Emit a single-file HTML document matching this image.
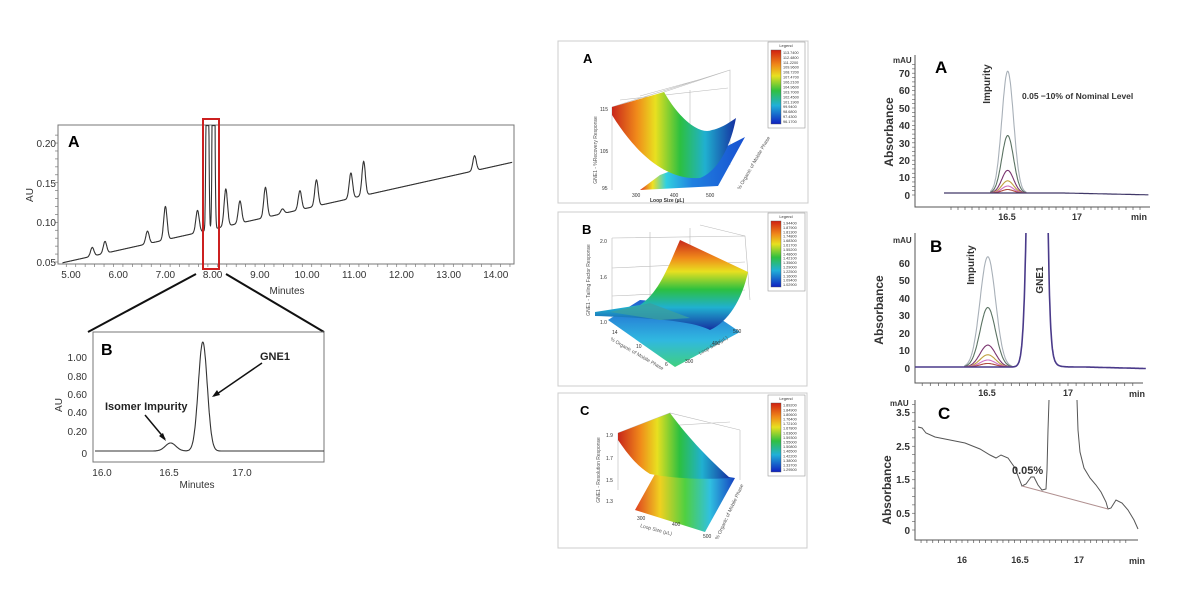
<!DOCTYPE html>
<html><head><meta charset="utf-8"><style>
html,body{margin:0;padding:0;background:#fff;}
svg{display:block;font-family:"Liberation Sans",sans-serif;}
</style></head><body>
<svg id="s" width="1193" height="591" viewBox="0 0 1193 591" xmlns="http://www.w3.org/2000/svg">
<defs>
<linearGradient id="jet" x1="0" y1="0" x2="1" y2="0">
<stop offset="0" stop-color="#c8261a"/><stop offset="0.2" stop-color="#f08a1a"/><stop offset="0.35" stop-color="#e8e020"/><stop offset="0.55" stop-color="#2cc040"/><stop offset="0.75" stop-color="#20b0d0"/><stop offset="1" stop-color="#1530a0"/></linearGradient>
<linearGradient id="jetv" x1="0" y1="0" x2="0" y2="1">
<stop offset="0" stop-color="#c8261a"/><stop offset="0.2" stop-color="#f08a1a"/><stop offset="0.35" stop-color="#e8e020"/><stop offset="0.55" stop-color="#2cc040"/><stop offset="0.75" stop-color="#20b0d0"/><stop offset="1" stop-color="#1530a0"/></linearGradient>
<linearGradient id="legv" x1="0" y1="0" x2="0" y2="1">
<stop offset="0" stop-color="#d02010"/><stop offset="0.2" stop-color="#f08a1a"/><stop offset="0.35" stop-color="#e8e020"/><stop offset="0.55" stop-color="#30c040"/><stop offset="0.75" stop-color="#20b0d8"/><stop offset="1" stop-color="#1020c0"/></linearGradient>
<linearGradient id="floorA" x1="0" y1="0" x2="1" y2="0">
<stop offset="0" stop-color="#e03020"/><stop offset="0.12" stop-color="#f0e020"/><stop offset="0.25" stop-color="#30d0e0"/><stop offset="0.5" stop-color="#2080e0"/><stop offset="1" stop-color="#1850d0"/></linearGradient>
<linearGradient id="floorB" x1="0" y1="0" x2="0" y2="1">
<stop offset="0" stop-color="#2060d0"/><stop offset="0.6" stop-color="#30b8e0"/><stop offset="1" stop-color="#40d080"/></linearGradient>
<linearGradient id="floorC" x1="0" y1="0" x2="1" y2="0">
<stop offset="0" stop-color="#e04020"/><stop offset="0.25" stop-color="#f0d020"/><stop offset="0.5" stop-color="#50d040"/><stop offset="0.75" stop-color="#30c0e0"/><stop offset="1" stop-color="#1540c0"/></linearGradient>
<clipPath id="cB"><rect x="915" y="233" width="240" height="160"/></clipPath>
</defs>

<!-- LEFT A -->
<rect x="58" y="125" width="456" height="139" fill="none" stroke="#777" stroke-width="1"/>
<g id="lticks"></g>
<path id="trA" fill="none" stroke="#333" stroke-width="1.1"/>
<rect x="203" y="119" width="16" height="150" fill="none" stroke="#cc2020" stroke-width="2"/>
<text x="68" y="147" font-size="16" font-weight="bold">A</text>
<g font-size="10" fill="#333" text-anchor="end">
<text x="56" y="147">0.20</text><text x="56" y="187">0.15</text><text x="56" y="226">0.10</text><text x="56" y="266">0.05</text></g>
<text x="33" y="195" font-size="10" fill="#333" transform="rotate(-90 33 195)" text-anchor="middle">AU</text>
<g font-size="10" fill="#333" text-anchor="middle" id="lxl"></g>
<text x="287" y="294" font-size="10" fill="#333" text-anchor="middle">Minutes</text>
<line x1="196" y1="274" x2="88" y2="332" stroke="#111" stroke-width="2"/>
<line x1="226" y1="274" x2="324" y2="332" stroke="#111" stroke-width="2"/>

<!-- LEFT B -->
<rect x="93" y="332" width="231" height="130" fill="none" stroke="#777" stroke-width="1"/>
<path id="trB" fill="none" stroke="#333" stroke-width="1.1"/>
<text x="101" y="355" font-size="16" font-weight="bold">B</text>
<g font-size="10" fill="#333" text-anchor="end">
<text x="87" y="361">1.00</text><text x="87" y="380">0.80</text><text x="87" y="398">0.60</text><text x="87" y="416">0.40</text><text x="87" y="435">0.20</text><text x="87" y="457">0</text></g>
<text x="62" y="405" font-size="10" fill="#333" transform="rotate(-90 62 405)" text-anchor="middle">AU</text>
<g font-size="10" fill="#333" text-anchor="middle"><text x="102" y="476">16.0</text><text x="169" y="476">16.5</text><text x="242" y="476">17.0</text></g>
<text x="197" y="488" font-size="10" fill="#333" text-anchor="middle">Minutes</text>
<text x="105" y="410" font-size="11" font-weight="bold" fill="#222">Isomer Impurity</text>
<text x="260" y="360" font-size="11" font-weight="bold" fill="#222">GNE1</text>
<line x1="145" y1="415" x2="165" y2="439" stroke="#111" stroke-width="1.5"/><path d="M166,441 L159,436 L163,433Z" fill="#111"/>
<line x1="262" y1="363" x2="214" y2="396" stroke="#111" stroke-width="1.5"/><path d="M212,397 L217,390 L220,395Z" fill="#111"/>

<!-- MIDDLE A -->
<rect x="558" y="41" width="250" height="162" fill="#fff" stroke="#ccc"/>
<text x="583" y="63" font-size="13" font-weight="bold">A</text>
<g stroke="#bbb" stroke-width="0.6" fill="none">
<path d="M612,107 L612,190 M664,92 L664,170 M612,107 L730,70 L730,165 M664,92 L730,70 M620,100 L728,88 M640,96 L705,78 M690,90 L690,155"/></g>
<polygon points="640,190 660,175 700,160 745,137 718,186" fill="url(#floorA)"/>
<path d="M612,107 L664,92 C680,120 700,135 712,130 C722,128 730,122 736,118 C730,150 716,172 700,178 C670,180 640,160 612,115 Z" fill="url(#jet)"/>
<g font-size="5" fill="#333"><text x="600" y="111">115</text><text x="600" y="153">105</text><text x="602" y="190">95</text>
<text x="632" y="197">300</text><text x="670" y="197">400</text><text x="706" y="197">500</text>
<text x="650" y="202" font-weight="bold">Loop Size (µL)</text></g>
<text x="740" y="190" font-size="5" fill="#555" transform="rotate(-60 740 190)">% Organic of Mobile Phase</text>
<text x="597" y="150" font-size="5" fill="#555" transform="rotate(-90 597 150)" text-anchor="middle">GNE1 - %Recovery Response</text>
<g id="legA"></g>

<!-- MIDDLE B -->
<rect x="558" y="212" width="249" height="174" fill="#fff" stroke="#ccc"/>
<text x="582" y="234" font-size="13" font-weight="bold">B</text>
<g stroke="#bbb" stroke-width="0.6" fill="none">
<path d="M612,238 L612,322 M612,238 L745,236 L750,300 M650,232 L650,310 M690,228 L690,320 M612,268 L745,262 M612,296 L745,290 M700,225 L745,236"/></g>
<polygon points="608,320 675,367 740,332 700,305 640,300" fill="url(#floorB)"/>
<path d="M595,312 L640,305 C660,292 670,262 680,240 L748,272 C742,300 728,322 710,330 C695,322 660,318 595,316 Z" fill="url(#jetv)"/>
<path d="M610,312 L650,303 L690,318 L660,320 Z" fill="#3aa0a0" opacity="0.8"/>
<g font-size="5" fill="#333"><text x="600" y="243">2.0</text><text x="600" y="279">1.6</text><text x="600" y="324">1.0</text>
<text x="612" y="334">14</text><text x="636" y="348">10</text><text x="665" y="366">6</text>
<text x="685" y="363">300</text><text x="712" y="345">400</text><text x="733" y="333">500</text></g>
<text x="610" y="340" font-size="5" fill="#555" transform="rotate(30 610 340)">% Organic of Mobile Phase</text>
<text x="700" y="355" font-size="5" fill="#555" transform="rotate(-30 700 355)">Loop Size (µL)</text>
<text x="590" y="280" font-size="5" fill="#555" transform="rotate(-90 590 280)" text-anchor="middle">GNE1 - Tailing Factor Response</text>
<g id="legB"></g>

<!-- MIDDLE C -->
<rect x="558" y="393" width="249" height="155" fill="#fff" stroke="#ccc"/>
<text x="580" y="415" font-size="13" font-weight="bold">C</text>
<g stroke="#bbb" stroke-width="0.6" fill="none">
<path d="M618,433 L618,490 M670,413 L670,470 M740,430 L740,480 M618,433 L670,413 L740,430 M630,428 L730,422"/></g>
<polygon points="635,510 705,532 735,478 660,465" fill="url(#floorC)"/>
<path d="M618,433 L670,413 C690,440 710,460 730,478 C700,480 670,478 650,474 C635,465 625,450 618,440 Z" fill="url(#jet)"/>
<g font-size="5" fill="#333"><text x="606" y="437">1.9</text><text x="606" y="460">1.7</text><text x="606" y="482">1.5</text><text x="606" y="503">1.3</text>
<text x="637" y="520">300</text><text x="672" y="526">400</text><text x="703" y="538">500</text></g>
<text x="640" y="527" font-size="5" fill="#555" transform="rotate(15 640 527)">Loop Size (µL)</text>
<text x="718" y="540" font-size="5" fill="#555" transform="rotate(-65 718 540)">% Organic of Mobile Phase</text>
<text x="600" y="470" font-size="5" fill="#555" transform="rotate(-90 600 470)" text-anchor="middle">GNE1 - Resolution Response</text>
<g id="legC"></g>

<!-- RIGHT A -->
<g stroke="#555" stroke-width="1" fill="none"><path d="M915,55 L915,207 L1150,207"/></g>
<g id="rtA"></g>
<text x="935" y="73" font-size="17" font-weight="bold">A</text>
<text x="893" y="63" font-size="8" font-weight="bold" fill="#333">mAU</text>
<g font-size="10" font-weight="bold" fill="#333" text-anchor="end">
<text x="910" y="77">70</text><text x="910" y="94">60</text><text x="910" y="112">50</text><text x="910" y="129">40</text><text x="910" y="147">30</text><text x="910" y="164">20</text><text x="910" y="181">10</text><text x="910" y="199">0</text></g>
<text x="893" y="132" font-size="12" font-weight="bold" fill="#333" transform="rotate(-90 893 132)" text-anchor="middle">Absorbance</text>
<text x="990" y="84" font-size="10" font-weight="bold" fill="#333" transform="rotate(-90 990 84)" text-anchor="middle">Impurity</text>
<text x="1022" y="99" font-size="8.5" font-weight="bold" fill="#333">0.05 −10% of Nominal Level</text>
<g font-size="9" font-weight="bold" fill="#333" text-anchor="middle"><text x="1007" y="220">16.5</text><text x="1077" y="220">17</text><text x="1139" y="220">min</text></g>

<!-- RIGHT B -->
<g stroke="#555" stroke-width="1" fill="none"><path d="M915,233 L915,383 L1143,383"/></g>
<g id="rtB" clip-path="url(#cB)"></g>
<text x="930" y="252" font-size="17" font-weight="bold">B</text>
<text x="893" y="243" font-size="8" font-weight="bold" fill="#333">mAU</text>
<g font-size="10" font-weight="bold" fill="#333" text-anchor="end">
<text x="910" y="267">60</text><text x="910" y="284">50</text><text x="910" y="302">40</text><text x="910" y="319">30</text><text x="910" y="337">20</text><text x="910" y="354">10</text><text x="910" y="372">0</text></g>
<text x="883" y="310" font-size="12" font-weight="bold" fill="#333" transform="rotate(-90 883 310)" text-anchor="middle">Absorbance</text>
<text x="974" y="265" font-size="10" font-weight="bold" fill="#333" transform="rotate(-90 974 265)" text-anchor="middle">Impurity</text>
<text x="1043" y="280" font-size="10" font-weight="bold" fill="#333" transform="rotate(-90 1043 280)" text-anchor="middle">GNE1</text>
<g font-size="9" font-weight="bold" fill="#333" text-anchor="middle"><text x="987" y="396">16.5</text><text x="1068" y="396">17</text><text x="1137" y="397">min</text></g>

<!-- RIGHT C -->
<g stroke="#555" stroke-width="1" fill="none"><path d="M915,400 L915,540 L1138,540"/></g>
<g id="rtC"></g>
<text x="938" y="419" font-size="17" font-weight="bold">C</text>
<text x="890" y="406" font-size="8" font-weight="bold" fill="#333">mAU</text>
<g font-size="10" font-weight="bold" fill="#333" text-anchor="end">
<text x="910" y="416">3.5</text><text x="910" y="450">2.5</text><text x="910" y="483">1.5</text><text x="910" y="517">0.5</text><text x="910" y="534">0</text></g>
<text x="891" y="490" font-size="12" font-weight="bold" fill="#333" transform="rotate(-90 891 490)" text-anchor="middle">Absorbance</text>
<text x="1012" y="474" font-size="11" font-weight="bold" fill="#333">0.05%</text>
<g font-size="9" font-weight="bold" fill="#333" text-anchor="middle"><text x="962" y="563">16</text><text x="1020" y="563">16.5</text><text x="1079" y="563">17</text><text x="1137" y="564">min</text></g>
</svg>
<script>
var NS="http://www.w3.org/2000/svg",S=document.getElementById('s');
function el(p,t,a,txt){var e=document.createElementNS(NS,t);for(var k in a)e.setAttribute(k,a[k]);if(txt!==undefined)e.textContent=txt;p.appendChild(e);return e;}
function g(x,m,s){return Math.exp(-0.5*Math.pow((x-m)/s,2));}
// Left A
var d="",lt=document.getElementById('lticks'),lx=document.getElementById('lxl');
function XA(t){return 71+(t-5)*47.2;}function YA(v){return 262-(v-0.05)*793;}
var pk=[[5.45,.011,.036],[5.72,.015,.036],[6.62,.016,.036],[7.0,.042,.036],[7.68,.028,.036],[7.89,.5,.02],[8.02,.5,.02],[8.28,.047,.036],[8.58,.028,.036],[9.12,.038,.036],[9.48,.006,.036],[9.85,.024,.036],[10.2,.033,.036],[10.93,.032,.036],[11.2,.043,.036],[13.55,.019,.036]];
for(var t=4.82;t<=14.35;t+=0.004){var v=0.049+(t-4.82)*0.0133;for(var i=0;i<pk.length;i++)v+=pk[i][1]*g(t,pk[i][0],pk[i][2]);v=Math.min(v,0.222);d+=(d?"L":"M")+XA(t).toFixed(1)+","+YA(v).toFixed(1);}
document.getElementById('trA').setAttribute('d',d);
for(var k=5;k<=14;k++){el(lx,'text',{x:XA(k),y:278},k.toFixed(2));}
for(var t=4.9;t<=14.35;t+=0.2){var x=XA(t);el(lt,'line',{x1:x,y1:264,x2:x,y2:(Math.abs(t-Math.round(t))<0.01?269:267),stroke:'#777','stroke-width':0.7});}
for(var v=0.05;v<=0.22;v+=0.01){el(lt,'line',{x1:55,y1:YA(v),x2:58,y2:YA(v),stroke:'#777','stroke-width':0.7});}
// Left B
d="";function XB(t){return 102+(t-16)*140;}
for(var t=15.95;t<=17.6;t+=0.003){var y=451-8*g(t,16.49,0.038)-109*g(t,16.72,0.032);var x=XB(t);if(x<93||x>324)continue;d+=(d?"L":"M")+x.toFixed(1)+","+y.toFixed(1);}
document.getElementById('trB').setAttribute('d',d);
// Legends
function leg(id,x,y,h,vals){var G=document.getElementById(id);el(G,'rect',{x:x,y:y,width:37,height:h,fill:'#fff',stroke:'#999','stroke-width':0.6});el(G,'text',{x:x+18,y:y+5,'font-size':4,'text-anchor':'middle',fill:'#333'},'Legend');
var top=y+8,bh=(h-12)/vals.length;el(G,'rect',{x:x+3,y:top,width:10,height:h-12,fill:'url(#legv)',stroke:'#555','stroke-width':0.4});
for(var i=0;i<vals.length;i++){el(G,'text',{x:x+15,y:top+bh*i+bh*0.8,'font-size':3.8,fill:'#333'},vals[i]);}}
leg('legA',768,42,86,["113.7400","112.4800","111.2200","109.9600","108.7200","107.4700","106.2100","104.9600","103.7000","102.4500","101.1900","99.9400","98.6800","97.4300","96.1700"]);
leg('legB',768,213,78,["1.94400","1.87900","1.81300","1.74800","1.68300","1.61700","1.55200","1.48600","1.42100","1.35600","1.29000","1.22500","1.16000","1.09400","1.02900"]);
leg('legC',768,395,81,["1.89200","1.84900","1.80600","1.76400","1.72100","1.67800","1.63600","1.59300","1.55000","1.50800","1.46500","1.42200","1.38000","1.33700","1.29500"]);
// Right A
var cols=[["#a8b0b8",70],["#5a7262",33],["#7a3470",13],["#c0a040",7],["#d070c0",4],["#b04a40",2]];
function XRA(t){return 1007+(t-16.5)*140;}
var rA=document.getElementById('rtA');
for(var c=0;c<cols.length;c++){d="";for(var t=16.38;t<=16.64;t+=0.003){var y=193-cols[c][1]*1.74*g(t,16.505,0.042);d+=(d?"L":"M")+XRA(t).toFixed(1)+","+y.toFixed(1);}el(rA,'path',{d:d,fill:'none',stroke:cols[c][0],'stroke-width':1.1});}
d="";for(var t=16.05;t<=17.52;t+=0.01){var y=193+(t>16.9?(t-16.9)*3:0);d+=(d?"L":"M")+XRA(t).toFixed(1)+","+y.toFixed(1);}el(rA,'path',{d:d,fill:'none',stroke:'#403868','stroke-width':1.2});
for(var t=16.1;t<=17.5;t+=0.05){el(rA,'line',{x1:XRA(t),y1:207,x2:XRA(t),y2:210,stroke:'#555','stroke-width':0.7});}
for(var v=0;v<=75;v+=2.5){el(rA,'line',{x1:912,y1:195-v*1.74,x2:915,y2:195-v*1.74,stroke:'#555','stroke-width':0.6});}
// Right B
function XRB(t){return 987+(t-16.5)*162;}
var rB=document.getElementById('rtB');var hB=[["#a8b0b8",63],["#5a7262",34],["#7a3470",12.5],["#c0a040",7],["#d070c0",4],["#b04a40",2]];
for(var c=0;c<hB.length;c++){d="";for(var t=16.36;t<=16.66;t+=0.003){var y=367-hB[c][1]*1.75*g(t,16.505,0.048);d+=(d?"L":"M")+XRB(t).toFixed(1)+","+y.toFixed(1);}el(rB,'path',{d:d,fill:'none',stroke:hB[c][0],'stroke-width':1.1});}
d="";for(var t=16.03;t<=17.48;t+=0.002){var m=16.84,y;var dx=t-m;var h=(dx<0)?3000*g(t,m,0.04):3000*Math.exp(-Math.abs(dx)/0.012)+(30*Math.exp(-dx/0.03));y=367-h+(t>17.1?(t-17.1)*4:0);y=Math.max(y,200);d+=(d?"L":"M")+XRB(t).toFixed(1)+","+y.toFixed(1);}
el(rB,'path',{d:d,fill:'none',stroke:'#4a3a8a','stroke-width':1.6});
for(var t=16.1;t<=17.45;t+=0.05){el(rB,'line',{x1:XRB(t),y1:383,x2:XRB(t),y2:386,stroke:'#555','stroke-width':0.7});}
for(var v=-5;v<=70;v+=2.5){el(rB,'line',{x1:912,y1:368-v*1.75,x2:915,y2:368-v*1.75,stroke:'#555','stroke-width':0.6});}
// Right C
var rC=document.getElementById('rtC');
var pts=[[918,427],[922,428],[926,433],[935,437],[950,440],[965,443],[980,449],[990,455],[996,458],[1001,455],[1008,458],[1015,468],[1022,486],[1026,484],[1031,477],[1034,477],[1038,485],[1042,490],[1046,489],[1047,470],[1048,430],[1049,400]];
var pts2=[[1077,400],[1078,430],[1080,452],[1084,468],[1090,478],[1096,485],[1101,492],[1106,502],[1108,509],[1111,508],[1116,500],[1122,503],[1128,510],[1134,520],[1138,529]];
function pl(p){return p.map(function(q,i){return (i?"L":"M")+q[0]+","+q[1];}).join("");}
el(rC,'path',{d:pl(pts),fill:'none',stroke:'#555','stroke-width':1});
el(rC,'path',{d:pl(pts2),fill:'none',stroke:'#555','stroke-width':1});
el(rC,'line',{x1:1022,y1:486,x2:1108,y2:509,stroke:'#b09090','stroke-width':1});
function XRC(t){return 962+(t-16)*117;}
for(var t=15.65;t<=17.45;t+=0.05){el(rC,'line',{x1:XRC(t),y1:540,x2:XRC(t),y2:543,stroke:'#555','stroke-width':0.7});}
for(var v=0;v<=3.8;v+=0.25){el(rC,'line',{x1:912,y1:530-v*33.5,x2:915,y2:530-v*33.5,stroke:'#555','stroke-width':0.6});}
</script>
</body></html>
